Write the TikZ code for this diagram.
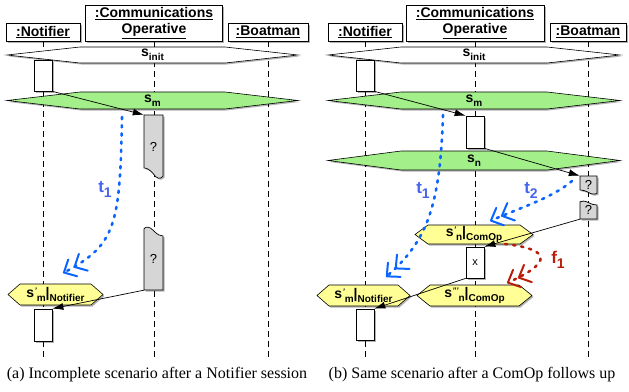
\documentclass[tikz,border=0pt]{standalone}
\usepackage{fontspec}
\setmainfont{Liberation Serif}
\setsansfont{Liberation Sans}
\usetikzlibrary{positioning, arrows.meta, shadows, calc}

\definecolor{stategreen}{RGB}{163,240,138}
\definecolor{stateyellow}{RGB}{255,255,150}
\definecolor{qgray}{RGB}{214,214,214}
\definecolor{flowblue}{RGB}{10,100,255}
\definecolor{lblblue}{RGB}{70,100,235}
\definecolor{flowred}{RGB}{185,30,10}

\newcommand{\lowtxt}[1]{\raisebox{-4pt}{\fontsize{10}{10}\selectfont #1}}
\newcommand{\flowsub}[1]{\raisebox{-5pt}{\fontsize{14}{14}\selectfont #1}}
\newcommand{\prm}[1]{\kern0.3pt\raisebox{4.5pt}{\fontsize{8}{8}\selectfont\itshape #1}}
% state bar: name, x left, x right, y top, y bottom, slant, fill, label
\newcommand{\hexstate}[8]{%
  \draw[hexline, fill=#7] (#2,{(#4+#5)/2}) -- (#2+#6,#4) -- (#3-#6,#4)
    -- (#3,{(#4+#5)/2}) -- (#3-#6,#5) -- (#2+#6,#5) -- cycle;
  \node[hexlbl] (#1) at ({(#2+#3)/2},{(#4+#5)/2}) {#8};}
% unfinished activation, torn at the bottom / at the top
\newcommand{\qtornbot}[6]{%
  \draw[qline] (#2,#3) -- (#4,#3) -- (#4,#5-0.2*#6)
    .. controls ({#4-0.1*(#4-#2)},{#5+0.15*#6}) and ({#4-0.35*(#4-#2)},{#5+0.1*#6}) .. ({#2+0.5*(#4-#2)},{#5-0.4*#6})
    .. controls ({#2+0.3*(#4-#2)},{#5-0.85*#6}) and ({#2+0.15*(#4-#2)},{#5-#6}) .. (#2,#5-#6) -- cycle;
  \node[qlbl, minimum width={#4-#2}, minimum height={#5-#3}] (#1) at ({(#2+#4)/2},{(#3+#5)/2}) {?};}
\newcommand{\qtorntop}[6]{%
  \draw[qline] (#2,#5) -- (#2,#3+0.2*#6)
    .. controls ({#2+0.1*(#4-#2)},{#3-0.1*#6}) and ({#2+0.3*(#4-#2)},{#3-0.05*#6}) .. ({#2+0.5*(#4-#2)},{#3+0.4*#6})
    .. controls ({#2+0.7*(#4-#2)},{#3+0.85*#6}) and ({#2+0.85*(#4-#2)},{#3+#6}) .. (#4,#3+#6) -- (#4,#5) -- cycle;
  \node[qlbl, minimum width={#4-#2}, minimum height={#5-#3}] (#1) at ({(#2+#4)/2},{(#3+#5)/2}) {?};}

\begin{document}
\begin{tikzpicture}[x=1pt, y=-1pt,
  shadowed/.style={drop shadow={shadow xshift=1.5pt, shadow yshift=-1.5pt, opacity=0.3, fill=black}},
  header/.style={draw, fill=white, line width=0.7pt, shadowed, inner sep=0pt, align=center,
    font=\fontsize{14}{16}\selectfont\sffamily\bfseries},
  lifeline/.style={line width=0.7pt, dash pattern=on 6pt off 4pt},
  hexline/.style={draw, line width=0.6pt, shadowed},
  hexlbl/.style={inner sep=0pt, font=\fontsize{14}{14}\selectfont\sffamily\bfseries},
  act/.style={draw, fill=white, line width=0.7pt, minimum width=18pt, minimum height=31pt, inner sep=0pt, shadowed},
  qline/.style={draw, fill=qgray, line width=0.7pt, shadowed},
  qlbl/.style={inner sep=0pt, font=\fontsize{13}{13}\selectfont\sffamily},
  msg/.style={line width=0.7pt, -{Latex[length=11pt,width=7pt]}},
  flow/.style={line width=2.6pt, line cap=round, dash pattern=on 2.2pt off 6pt,
    -{Straight Barb[length=10pt,width=19pt,line width=2pt,round] Straight Barb[length=10pt,width=19pt,line width=2pt,round]}},
  flowlbl/.style={inner sep=0pt, font=\fontsize{17}{17}\selectfont\sffamily\bfseries},
  caption/.style={font=\fontsize{16}{18}\selectfont}]
\useasboundingbox (0,0) rectangle (629,391);
\coordinate (bot) at (0,358);

% (a)
\node[header, minimum width=74pt, minimum height=18pt] (hNa) at (43,32) {\underline{:Notifier}};
\node[header, minimum width=137pt, minimum height=36pt] (hCa) at (154,23) {\underline{:Communications}\\\underline{Operative}};
\node[header, minimum width=80pt, minimum height=18pt] (hBa) at (268,32) {\underline{:Boatman}};
% (b)
\node[header, minimum width=74pt, minimum height=18pt] (hNb) at (365,32) {\underline{:Notifier}};
\node[header, minimum width=138pt, minimum height=36pt] (hCb) at (475,23) {\underline{:Communications}\\\underline{Operative}};
\node[header, minimum width=76pt, minimum height=18pt] (hBb) at (588,32) {\underline{:Boatman}};

\foreach \h in {hNa,hCa,hBa,hNb,hCb,hBb}
  \draw[lifeline] (\h.south) -- (\h.south |- bot);

\hexstate{sia}{7}{298}{47}{63}{73}{white}{s\lowtxt{init}}
\hexstate{sma}{7}{298}{92}{109}{73}{stategreen}{s\lowtxt{m}}
\hexstate{smna}{8}{103}{284}{305}{12}{stateyellow}{s\prm{'}\lowtxt{m}|\lowtxt{Notifier}}
\hexstate{sib}{328}{620}{47}{63}{73}{white}{s\lowtxt{init}}
\hexstate{smb}{328}{620}{92}{109}{73}{stategreen}{s\lowtxt{m}}
\hexstate{snb}{328}{620}{151}{170}{73}{stategreen}{s\lowtxt{n}}
\hexstate{snc}{415}{533}{225}{244}{13}{stateyellow}{s\prm{'}\lowtxt{n}|\lowtxt{ComOp}}
\hexstate{smnb}{317}{410}{285}{306}{12}{stateyellow}{s\prm{'}\lowtxt{m}|\lowtxt{Notifier}}
\hexstate{sncc}{417}{532}{285}{306}{13}{stateyellow}{s\prm{'''}\lowtxt{n}|\lowtxt{ComOp}}

\node[act] (nA1) at (43,75.5) {};
\node[act, minimum height=32pt] (nA2) at (43,325) {};
\qtornbot{qA1}{144}{115}{163}{178}{10}
\qtorntop{qA2}{144}{227}{163}{290}{9}

\node[act] (nB1) at (365,75.5) {};
\node[act, minimum height=32pt] (cB1) at (475,132) {};
\qtornbot{qB1}{580}{176}{597}{194}{4}
\qtorntop{qB2}{580}{201}{597}{219}{4}
\node[act, font=\fontsize{11}{11}\selectfont\sffamily] (xB) at (475,262.5) {x};
\node[act] (nB2) at (365,324.5) {};

\draw[msg] (nA1.south east) -- (qA1.north west);
\draw[msg] (qA2.south west) -- (nA2.north east);
\draw[msg] (nB1.south east) -- (cB1.north west);
\draw[msg] (cB1.south east) -- (qB1.north west);
\draw[msg] (qB2.south west) -- (xB.north east);
\draw[msg] (xB.south west) -- (nB2.north east);

\coordinate (t1a) at (122,117);
\coordinate (t1b) at (63,273);
\coordinate (t1c) at (443,115);
\coordinate (t1d) at (386,277);
\coordinate (t2a) at (572,181);
\coordinate (t2b) at (490,221);
\coordinate (f1a) at (505,244);
\coordinate (f1b) at (507,283);
\draw[flow, flowblue] (t1a) .. controls (120,225) and (116,245) .. (t1b);
\draw[flow, flowblue] (t1c) .. controls (440,205) and (428,240) .. (t1d);
\draw[flow, flowblue] (t2a) .. controls (552,198) and (522,207) .. (t2b);
\draw[flow, flowred] (f1a) .. controls (540,248) and (562,258) .. (f1b);
\node[flowlbl, text=lblblue] (t1la) at (105,189) {t\flowsub{1}};
\node[flowlbl, text=lblblue] (t1lb) at (423,190) {t\flowsub{1}};
\node[flowlbl, text=lblblue] (t2l) at (531,190) {t\flowsub{2}};
\node[flowlbl, text=flowred] (f1l) at (558,260) {f\flowsub{1}};

\node[caption] (capa) at (157,375) {(a) Incomplete scenario after a Notifier session};
\node[caption] (capb) at (472,375) {(b) Same scenario after a ComOp follows up};
\end{tikzpicture}
\end{document}
